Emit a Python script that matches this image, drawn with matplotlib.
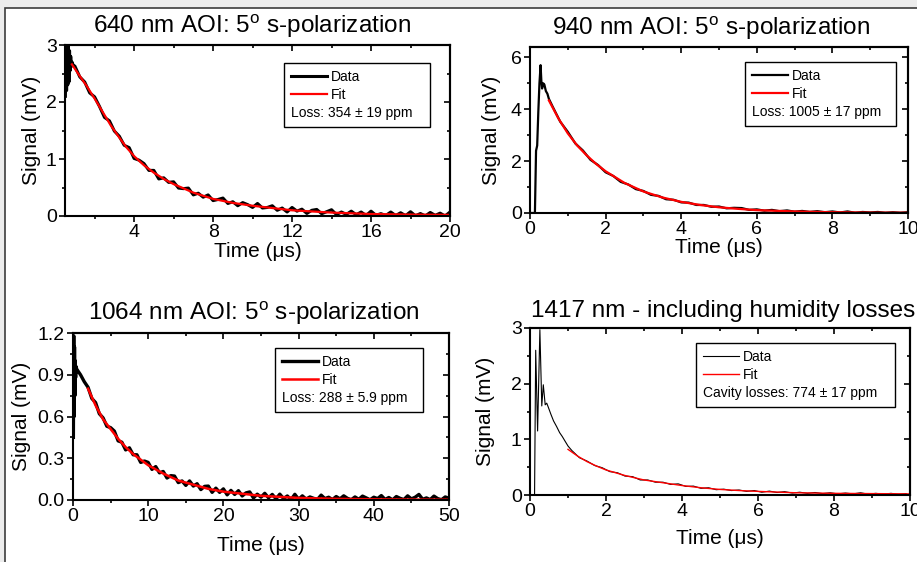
import numpy as np
import matplotlib
matplotlib.use("Agg")
import matplotlib.pyplot as plt
from matplotlib.patches import Rectangle
from matplotlib.ticker import MultipleLocator, FormatStrFormatter

plt.rcParams['font.family'] = ['Liberation Sans', 'DejaVu Sans']
plt.rcParams['mathtext.fontset'] = 'custom'
plt.rcParams['mathtext.rm'] = 'Liberation Sans'
plt.rcParams['mathtext.it'] = 'Liberation Sans:italic'

# ---- 640 nm ----
sig1_spike_t = [0.52, 0.55, 0.58, 0.61, 0.64, 0.67, 0.70, 0.73, 0.76, 0.79, 0.82, 0.86, 0.92]
sig1_spike_y = [2.10, 3.00, 2.20, 2.98, 2.30, 3.00, 2.35, 2.90, 2.55, 2.80, 2.62, 2.70, 2.64]
sig1_t0, sig1_dt = 1.0, 0.25
sig1 = [2.63, 2.44, 2.35, 2.16, 2.09, 1.92, 1.73, 1.67, 1.49, 1.40,
        1.24, 1.20, 1.01, 0.98, 0.92, 0.80, 0.80, 0.65, 0.67, 0.59,
        0.60, 0.49, 0.48, 0.49, 0.37, 0.40, 0.33, 0.37, 0.27, 0.29,
        0.315, 0.22, 0.25, 0.18, 0.235, 0.20, 0.15, 0.22, 0.14, 0.15,
        0.18, 0.10, 0.14, 0.07, 0.15, 0.085, 0.12, 0.045, 0.10, 0.115,
        0.04, 0.075, 0.11, 0.025, 0.07, 0.028, 0.085, 0.022, 0.07, 0.008,
        0.085, 0.013, 0.041, 0.01, 0.07, 0.008, 0.057, 0.006, 0.075, 0.004,
        0.043, 0.002, 0.062, 0.011, 0.05, 0.0, 0.07]
fit1_t = [0.85, 1.2, 1.6, 2.0, 2.4, 2.8, 3.2, 3.6, 4.0, 4.5, 5.0, 5.5, 6.0, 7.0, 8.0,
          9.0, 10.0, 11.0, 12.0, 13.0, 14.0, 16.0, 18.0, 20.0]
fit1_y = [2.66, 2.48, 2.28, 2.06, 1.83, 1.60, 1.40, 1.21, 1.05, 0.89, 0.76, 0.65, 0.56, 0.41, 0.30,
          0.23, 0.18, 0.14, 0.10, 0.08, 0.06, 0.035, 0.025, 0.02]

# ---- 940 nm ----
sig2_rise_t = [0.0, 0.13, 0.16, 0.19, 0.22, 0.25, 0.28, 0.30, 0.32, 0.35, 0.38, 0.42, 0.46, 0.50]
sig2_rise_y = [0.0, 0.0, 2.40, 2.60, 3.90, 5.00, 5.70, 5.10, 4.80, 5.00, 4.95, 4.70, 4.60, 4.40]
sig2_t0, sig2_dt = 0.6, 0.2
sig2 = [4.10, 3.52, 3.13, 2.68, 2.41, 2.05, 1.85, 1.57, 1.43, 1.20,
        1.10, 0.92, 0.85, 0.70, 0.66, 0.53, 0.51, 0.41, 0.40, 0.31,
        0.31, 0.24, 0.25, 0.18, 0.20, 0.19, 0.12, 0.14, 0.09, 0.12,
        0.07, 0.10, 0.05, 0.08, 0.04, 0.07, 0.03, 0.06, 0.02, 0.06,
        0.01, 0.04, 0.02, 0.04, 0.01, 0.03, 0.01, 0.03]
fit2_t = [0.5, 0.75, 1.0, 1.25, 1.5, 1.75, 2.0, 2.5, 3.0, 3.5, 4.0, 4.5, 5.0, 5.5, 6.0,
          7.0, 8.0, 9.0, 10.0]
fit2_y = [4.34, 3.65, 3.07, 2.60, 2.22, 1.89, 1.61, 1.16, 0.83, 0.60, 0.43, 0.31, 0.22, 0.16, 0.11,
          0.06, 0.03, 0.015, 0.01]

# ---- 1064 nm ----
sig3_spike_t = [0.05, 0.10, 0.15, 0.20, 0.25, 0.30, 0.35, 0.40]
sig3_spike_y = [0.45, 1.18, 0.60, 1.10, 0.75, 1.00, 0.88, 0.96]
sig3_t0, sig3_dt = 0.5, 0.5
sig3 = [0.94, 0.90, 0.85, 0.81, 0.73, 0.70, 0.62, 0.59, 0.53, 0.52,
        0.495, 0.425, 0.415, 0.36, 0.375, 0.325, 0.325, 0.27, 0.28, 0.27,
        0.22, 0.24, 0.195, 0.205, 0.158, 0.175, 0.172, 0.125, 0.137, 0.105,
        0.137, 0.10, 0.117, 0.075, 0.098, 0.10, 0.055, 0.085, 0.055, 0.08,
        0.037, 0.069, 0.04, 0.067, 0.029, 0.051, 0.058, 0.015, 0.042, 0.02,
        0.048, 0.016, 0.04, 0.008, 0.042, 0.01, 0.029, 0.003, 0.041, 0.005,
        0.03, 0.006, 0.022, 0.012, 0.004, 0.035, 0.01, 0.02, 0.003, 0.025,
        0.008, 0.03, 0.012, 0.002, 0.022, 0.005, 0.028, 0.015, 0.002, 0.02,
        0.01, 0.032, 0.004, 0.018, 0.001, 0.025, 0.012, 0.003, 0.03, 0.008,
        0.02, 0.04, 0.005, 0.015, 0.003, 0.028, 0.01, 0.002, 0.022, 0.012]
fit3_t = [2, 3, 4, 5, 6, 7, 8, 10, 12, 14, 16, 18, 20, 25, 30, 35, 40, 45, 50]
fit3_y = [0.80, 0.68, 0.58, 0.51, 0.44, 0.38, 0.33, 0.25, 0.19, 0.14, 0.11, 0.08, 0.06, 0.03,
          0.015, 0.008, 0.005, 0.003, 0.002]

# ---- 1417 nm ----
sig4_start_t = [0.0, 0.12, 0.15, 0.20, 0.26, 0.31, 0.35, 0.40, 0.44, 0.48, 0.55, 0.62, 0.70,
                0.78, 0.85, 0.92, 1.0]
sig4_start_y = [0.0, 0.0, 2.60, 1.15, 2.97, 1.60, 1.98, 1.62, 1.65, 1.58, 1.45, 1.33, 1.23,
                1.12, 1.05, 0.97, 0.88]
sig4_t0, sig4_dt = 1.1, 0.2
sig4 = [0.80, 0.67, 0.61, 0.53, 0.49, 0.42, 0.40, 0.34, 0.33, 0.27,
        0.27, 0.23, 0.23, 0.19, 0.20, 0.155, 0.16, 0.12, 0.13, 0.095,
        0.105, 0.08, 0.09, 0.065, 0.08, 0.05, 0.07, 0.045, 0.06, 0.035,
        0.05, 0.03, 0.045, 0.025, 0.04, 0.02, 0.035, 0.02, 0.04, 0.015,
        0.03, 0.015, 0.03, 0.012, 0.025]
fit4_t = [1.0, 1.25, 1.5, 1.75, 2.0, 2.5, 3.0, 3.5, 4.0, 4.5, 5.0, 5.5, 6.0, 7.0, 8.0, 9.0, 10.0]
fit4_y = [0.82, 0.70, 0.60, 0.52, 0.45, 0.35, 0.27, 0.22, 0.17, 0.13, 0.10, 0.08, 0.065, 0.04,
          0.03, 0.025, 0.02]

titles = ["640 nm AOI: 5$^\\mathrm{o}$ s-polarization",
          "940 nm AOI: 5$^\\mathrm{o}$ s-polarization",
          "1064 nm AOI: 5$^\\mathrm{o}$ s-polarization",
          "1417 nm - including humidity losses"]
loss_texts = ["Loss: 354 \u00b1 19 ppm",
              "Loss: 1005 \u00b1 17 ppm",
              "Loss: 288 \u00b1 5.9 ppm",
              "Cavity losses: 774 \u00b1 17 ppm"]


def trace(t_pre, y_pre, t0, dt, vals):
    t = t0 + dt * np.arange(len(vals))
    return np.concatenate([t_pre, t]), np.concatenate([y_pre, vals])


def style_axes(ax, xlim, ylim, xmaj, xmin, ymaj, ymin, yfmt=None):
    ax.set_xlim(*xlim)
    ax.set_ylim(*ylim)
    for side in ax.spines.values():
        side.set_linewidth(1.5)
    ax.xaxis.set_major_locator(MultipleLocator(xmaj))
    ax.xaxis.set_minor_locator(MultipleLocator(xmin))
    ax.yaxis.set_major_locator(MultipleLocator(ymaj))
    ax.yaxis.set_minor_locator(MultipleLocator(ymin))
    if yfmt:
        ax.yaxis.set_major_formatter(FormatStrFormatter(yfmt))
    ax.tick_params(which='both', direction='out', width=1.2, labelsize=14, pad=1.5)
    ax.tick_params(which='major', length=4.5)
    ax.tick_params(which='minor', length=2.5)
    # mirrored ticks pointing inwards on top / right
    top = ax.secondary_xaxis('top')
    top.xaxis.set_major_locator(MultipleLocator(xmaj))
    top.xaxis.set_minor_locator(MultipleLocator(xmin))
    top.tick_params(which='both', direction='in', width=1.2, labeltop=False)
    top.tick_params(which='major', length=4.5)
    top.tick_params(which='minor', length=2.5)
    top.spines['top'].set_linewidth(1.5)
    right = ax.secondary_yaxis('right')
    right.yaxis.set_major_locator(MultipleLocator(ymaj))
    right.yaxis.set_minor_locator(MultipleLocator(ymin))
    right.tick_params(which='both', direction='in', width=1.2, labelright=False)
    right.tick_params(which='major', length=4.5)
    right.tick_params(which='minor', length=2.5)
    right.spines['right'].set_linewidth(1.5)


def add_legend(ax, h_data, h_fit, loss, box):
    leg = ax.legend([h_data, h_fit], ['Data', 'Fit'], title=loss, alignment='left',
                    loc='upper left', bbox_to_anchor=box, mode='expand', borderaxespad=0,
                    fancybox=False, framealpha=1, edgecolor='black',
                    fontsize=10, title_fontsize=10, handlelength=2.6,
                    handletextpad=0.3, labelspacing=0.3, borderpad=0.5)
    leg.get_frame().set_linewidth(1.0)
    # put the loss line under the two entries
    leg._legend_box._children.reverse()
    return leg


fig = plt.figure(figsize=(9.17, 5.62), dpi=100)
fig.patches.append(Rectangle((0, 0), 1, 1, transform=fig.transFigure,
                             facecolor='#ececec', edgecolor='none', zorder=-20))
fig.patches.append(Rectangle((4.5 / 917, -0.01), 1.0, (562 - 8) / 562 + 0.01,
                             transform=fig.transFigure, facecolor='white',
                             edgecolor='#3c3c3c', linewidth=1.2, zorder=-19))

axes = [fig.add_axes([65 / 917, 1 - 216 / 562, 385 / 917, 171 / 562]),
        fig.add_axes([530 / 917, 1 - 213 / 562, 378 / 917, 166 / 562]),
        fig.add_axes([73 / 917, 1 - 500 / 562, 376 / 917, 167 / 562]),
        fig.add_axes([530 / 917, 1 - 495 / 562, 380 / 917, 167 / 562])]

t1, y1 = trace(sig1_spike_t, sig1_spike_y, sig1_t0, sig1_dt, sig1)
t2, y2 = trace(sig2_rise_t, sig2_rise_y, sig2_t0, sig2_dt, sig2)
t3, y3 = trace(sig3_spike_t, sig3_spike_y, sig3_t0, sig3_dt, sig3)
t4, y4 = trace(sig4_start_t, sig4_start_y, sig4_t0, sig4_dt, sig4)

traces = [(t1, y1, fit1_t, fit1_y, 2.2, 1.6),
          (t2, y2, fit2_t, fit2_y, 1.6, 1.6),
          (t3, y3, fit3_t, fit3_y, 2.4, 1.8),
          (t4, y4, fit4_t, fit4_y, 0.8, 1.0)]

limits = [((0.5, 20), (0, 3), 4, 2, 1, 0.5, None),
          ((0, 10), (0, 6.4), 2, 1, 2, 1, None),
          ((0, 50), (0, 1.2), 10, 5, 0.3, 0.15, '%.1f'),
          ((0, 10), (0, 3), 2, 1, 1, 0.5, None)]

title_pos = [(0.486, 1.070), (0.479, 1.072), (0.481, 1.078), (0.509, 1.068)]
ylabel_x = [-0.088, -0.101, -0.138, -0.116]
xlabel_y = [-0.205, -0.205, -0.27, -0.26]
# legend frame: left, bottom, width, height in axes fraction
legend_box = [(0.569, 0.509, 0.379, 0.386),
              (0.569, 0.518, 0.399, 0.392),
              (0.537, 0.515, 0.394, 0.395),
              (0.437, 0.520, 0.524, 0.390)]

for i, ax in enumerate(axes):
    t, y, ft, fy, lw_d, lw_f = traces[i]
    h_data, = ax.plot(t, y, color='black', linewidth=lw_d)
    h_fit, = ax.plot(ft, fy, color='red', linewidth=lw_f)
    style_axes(ax, *limits[i])
    ax.text(title_pos[i][0], title_pos[i][1], titles[i], transform=ax.transAxes,
            ha='center', va='baseline', fontsize=17.5)
    ax.set_ylabel('Signal (mV)', fontsize=15, va='center')
    ax.yaxis.set_label_coords(ylabel_x[i], 0.5)
    ax.set_xlabel('Time (\u03bcs)', fontsize=15, va='center')
    ax.xaxis.set_label_coords(0.5, xlabel_y[i])
    add_legend(ax, h_data, h_fit, loss_texts[i], legend_box[i])

fig.savefig('out.png', dpi=100)
